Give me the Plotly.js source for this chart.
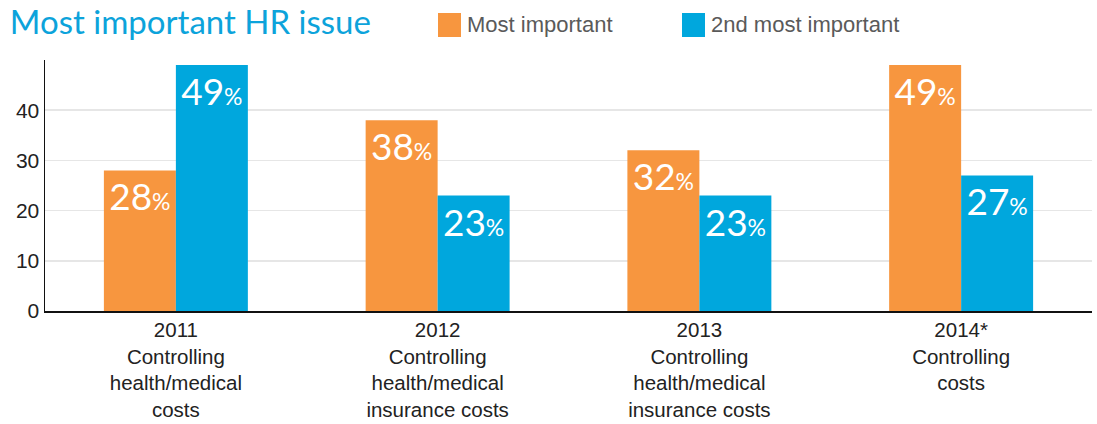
<!DOCTYPE html>
<html>
<head>
<meta charset="utf-8">
<script src="https://cdn.plot.ly/plotly-3.0.1.min.js"></script>
<style>
html,body{margin:0;padding:0;background:#fff;}
#chart{width:1097px;height:424px;}
</style>
</head>
<body>
<div id="chart"></div>
<script>
// Data
const categories = [
  "2011<br>Controlling<br>health/medical<br>costs",
  "2012<br>Controlling<br>health/medical<br>insurance costs",
  "2013<br>Controlling<br>health/medical<br>insurance costs",
  "2014*<br>Controlling<br>costs"
];
const seriesNames = ["Most important", "2nd most important"];
const mostImportant = [28, 38, 32, 49];
const secondMostImportant = [49, 23, 23, 27];
const yTickValues = [0, 10, 20, 30, 40];

const orange = "#F7963F";
const blue = "#00A7DD";

function labels(vals) {
  return vals.map(v => v + "<span style='font-size:23px'>%</span>");
}

const barText = {family: "Lato, 'Open Sans', sans-serif", size: 37, color: "#ffffff"};

const traces = [
  {
    type: "bar", name: seriesNames[0], x: categories, y: mostImportant,
    marker: {color: orange}, text: labels(mostImportant),
    textposition: "inside", insidetextanchor: "end", textangle: 0,
    constraintext: "none", textfont: barText, hoverinfo: "y"
  },
  {
    type: "bar", name: seriesNames[1], x: categories, y: secondMostImportant,
    marker: {color: blue}, text: labels(secondMostImportant),
    textposition: "inside", insidetextanchor: "end", textangle: 0,
    constraintext: "none", textfont: barText, hoverinfo: "y"
  }
];

const layout = {
  width: 1097, height: 424,
  margin: {l: 45, r: 5, t: 60, b: 113},
  paper_bgcolor: "#ffffff", plot_bgcolor: "#ffffff",
  showlegend: false,
  barmode: "group", bargap: 0.45, bargroupgap: 0,
  font: {family: "'Liberation Sans', Arial, sans-serif", color: "#222"},
  title: {
    text: "Most important HR issue",
    font: {family: "Lato, 'Open Sans', sans-serif", size: 33, color: "#0CA3DB"},
    x: 0.009, xanchor: "left", yref: "container", y: 0.92, yanchor: "bottom"
  },
  xaxis: {
    type: "category", range: [-0.5, 3.5],
    showline: true, linecolor: "#111", linewidth: 1.5,
    ticks: "", tickfont: {size: 20.5, color: "#222"},
    showgrid: false, zeroline: false
  },
  yaxis: {
    range: [0, 50], tickvals: yTickValues,
    showline: true, linecolor: "#111", linewidth: 1.5,
    showgrid: true, gridcolor: "#e6e6e6", gridwidth: 1.5,
    zeroline: false, ticks: "", ticklen: 0,
    tickfont: {size: 21, color: "#222"}
  },
  shapes: [],
  annotations: []
};

// custom legend (large squares as in the original)
const legendItems = [
  {color: orange, label: seriesNames[0], x: 438},
  {color: blue, label: seriesNames[1], x: 682}
];
legendItems.forEach(it => {
  layout.shapes.push({
    type: "rect", xref: "paper", yref: "paper",
    x0: (it.x - 45) / 1047, x1: (it.x + 23 - 45) / 1047,
    y0: (311 - 37) / 251, y1: (311 - 13) / 251,
    fillcolor: it.color, line: {width: 0}
  });
  layout.annotations.push({
    xref: "paper", yref: "paper",
    x: (it.x + 27 - 45) / 1047, y: (311 - 25) / 251,
    xanchor: "left", yanchor: "middle", showarrow: false,
    text: it.label,
    font: {family: "'Liberation Sans', Arial, sans-serif", size: 22, color: "#5a5a5a"}
  });
});

Plotly.newPlot("chart", traces, layout, {displayModeBar: false, staticPlot: true});
</script>
</body>
</html>
